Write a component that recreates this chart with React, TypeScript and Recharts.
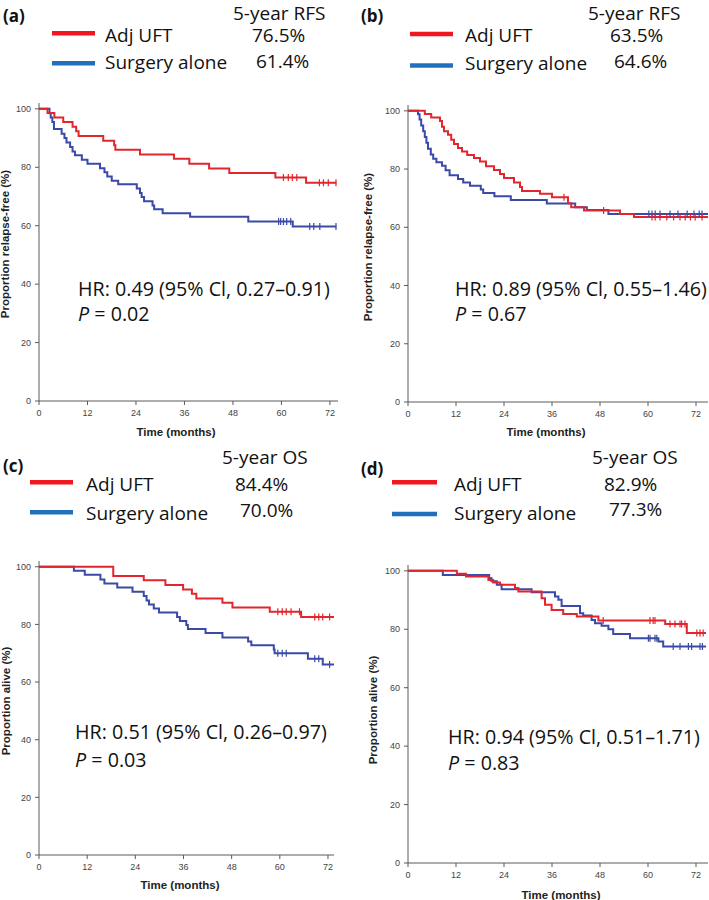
import React from 'react';
import { ComposedChart, Line, Scatter, XAxis, YAxis } from 'recharts';

type Pt = [number, number];

const X_TICKS = [0, 12, 24, 36, 48, 60, 72];
const Y_TICKS = [0, 20, 40, 60, 80, 100];

const SERIES_NAMES = ['Adj UFT', 'Surgery alone'];
const PANEL_TAGS = ['(a)', '(b)', '(c)', '(d)'];
const RATE_TITLES = ['5-year RFS', '5-year RFS', '5-year OS', '5-year OS'];
const RATE_UFT = ['76.5%', '63.5%', '84.4%', '82.9%'];
const RATE_SURG = ['61.4%', '64.6%', '70.0%', '77.3%'];
const HR_TEXT = [
  'HR: 0.49 (95% Cl, 0.27\u20130.91)',
  'HR: 0.89 (95% Cl, 0.55\u20131.46)',
  'HR: 0.51 (95% Cl, 0.26\u20130.97)',
  'HR: 0.94 (95% Cl, 0.51\u20131.71)',
];
const P_TEXT = ['0.02', '0.67', '0.03', '0.83'];
const Y_LABELS = ['Proportion relapse-free (%)', 'Proportion relapse-free (%)', 'Proportion alive (%)', 'Proportion alive (%)'];
const X_LABEL = 'Time (months)';

// Panel (a) RFS
const A_UFT: Pt[] = [[0, 100], [2.1, 98.6], [3.8, 97.0], [6.0, 95.5], [8.3, 93.9], [9.2, 92.3], [9.8, 90.7], [15.9, 89.1], [18.6, 87.5], [18.9, 86.0], [25.0, 84.4], [33.4, 82.9], [37.2, 81.2], [42.1, 79.6], [47.1, 78.0], [58.5, 76.5], [66.1, 74.7], [73.6, 74.7]];
const A_UFT_CENSOR = [60.5, 61.7, 62.7, 63.8, 69.4, 70.4, 71.6, 73.5];
const A_SURG: Pt[] = [[0, 100], [2.6, 98.5], [2.9, 97.0], [3.3, 95.5], [3.7, 93.1], [5.6, 91.5], [6.3, 90.0], [6.8, 88.5], [7.7, 86.9], [8.3, 85.4], [8.9, 84.1], [10.6, 82.6], [12.0, 81.2], [15.1, 79.7], [16.2, 78.3], [16.9, 76.8], [18.0, 75.4], [19.6, 74.2], [24.2, 72.7], [25.0, 71.2], [25.4, 69.8], [26.0, 68.4], [28.1, 66.9], [28.5, 65.6], [30.6, 64.3], [37.4, 63.1], [51.8, 61.4], [62.8, 59.7], [73.6, 59.7]];
const A_SURG_CENSOR = [59.3, 59.8, 60.5, 61.3, 62.3, 67.0, 68.0, 69.5, 73.5];

// Panel (b) RFS
const B_UFT: Pt[] = [[0, 100], [4.2, 98.9], [5.8, 97.7], [8.0, 96.5], [8.5, 94.5], [9.0, 93.0], [10.0, 91.8], [10.8, 90.1], [11.5, 88.6], [12.5, 87.2], [13.5, 86.0], [14.8, 84.8], [16.5, 83.8], [18.0, 82.6], [19.5, 81.0], [21.5, 79.7], [23.0, 78.3], [24.0, 76.9], [26.5, 75.4], [28.0, 73.8], [28.5, 72.5], [33.0, 71.5], [36.0, 70.3], [40.0, 68.3], [40.8, 66.9], [44.0, 65.8], [53.0, 64.6], [56.5, 63.5], [75, 63.5]];
const B_UFT_CENSOR = [39.0, 48.9, 61.0, 61.8, 63.0, 64.7, 66.4, 68.0, 69.3, 70.6, 71.8, 73.5];
const B_SURG: Pt[] = [[0, 100], [2.5, 98.8], [2.9, 97.0], [3.3, 95.0], [3.8, 93.0], [4.2, 91.0], [4.6, 89.0], [5.0, 87.0], [5.7, 85.0], [6.3, 83.5], [7.1, 82.3], [8.5, 81.1], [9.4, 79.6], [10.4, 77.9], [12.5, 76.6], [13.8, 75.4], [15.5, 74.3], [18.2, 73.0], [18.8, 71.8], [21.6, 70.7], [25.7, 69.4], [34.7, 68.2], [41.8, 66.9], [44.7, 65.9], [50.1, 64.6], [75, 64.6]];
const B_SURG_CENSOR = [60.2, 61.0, 61.8, 63.0, 65.5, 67.5, 69.8, 71.5, 72.8, 73.5];

// Panel (c) OS
const C_UFT: Pt[] = [[0, 100], [18.5, 96.8], [26.1, 95.3], [31.5, 93.7], [35.9, 92.1], [38.1, 90.6], [39.2, 89.0], [45.7, 87.5], [48.2, 85.9], [57.5, 84.4], [65.3, 82.6], [73.5, 82.6]];
const C_UFT_CENSOR = [59.5, 60.6, 61.6, 62.8, 64.9, 68.7, 69.7, 70.7, 72.4];
const C_SURG: Pt[] = [[0, 100], [8.7, 98.6], [11.4, 97.2], [15.3, 95.6], [16.3, 94.2], [19.5, 92.8], [23.3, 91.3], [26.1, 89.9], [26.8, 88.3], [27.4, 86.9], [28.6, 85.5], [29.9, 84.1], [34.4, 82.6], [35.1, 81.2], [36.7, 79.8], [37.1, 78.4], [41.5, 77.0], [45.7, 75.5], [52.1, 74.1], [52.9, 72.8], [58.5, 71.3], [58.7, 70.0], [67.0, 68.1], [70.7, 66.1], [73.5, 66.1]];
const C_SURG_CENSOR = [59.5, 60.6, 61.6, 68.7, 69.7, 72.4];

// Panel (d) OS
const D_UFT: Pt[] = [[0, 100], [12.2, 99.0], [14.5, 98.1], [20.1, 96.9], [21.3, 96.0], [23.0, 95.2], [26.75, 94.1], [27.6, 92.9], [33.4, 90.6], [34.25, 88.4], [35.9, 86.6], [38.8, 85.2], [42.2, 84.4], [47.6, 83.0], [64.3, 81.8], [69.7, 78.7], [74.5, 78.7]];
const D_UFT_CENSOR = [48.8, 60.5, 61.3, 61.75, 65.5, 66.75, 68.0, 68.4, 69.25, 72.2, 73.0, 73.8];
const D_SURG: Pt[] = [[0, 100], [8.7, 98.6], [20.3, 97.5], [20.9, 96.4], [22.2, 95.2], [23.4, 93.7], [30.9, 92.7], [36.75, 91.2], [37.6, 90.1], [38.4, 88.0], [43.0, 85.5], [43.8, 84.7], [45.9, 83.2], [46.75, 82.1], [48.4, 81.2], [50.1, 80.0], [51.3, 78.4], [55.5, 76.9], [62.6, 75.8], [63.8, 74.1], [74.5, 74.1]];
const D_SURG_CENSOR = [60.1, 60.5, 61.75, 62.2, 66.3, 68.0, 70.1, 70.9, 73.0, 73.6];

const RED = '#e2262e';
const BLUE = '#3a4aa6';
const LEG_RED = '#f2161e';
const LEG_BLUE = '#2070bd';
const AXIS = '#5a5a5a';

const stepValue = (pts: Pt[], t: number) => {
  let v = pts[0][1];
  for (const [tt, s] of pts) if (tt <= t) v = s;
  return v;
};

const censorShape = (color: string) => (props: any) => {
  const { cx, cy } = props;
  if (cx == null || cy == null) return <g />;
  return <line x1={cx} x2={cx} y1={cy - 3.5} y2={cy + 3.5} stroke={color} strokeWidth={1.2} />;
};

type Box = { x: number; y: number; w: number; h: number; yw: number; xh: number; xMax: number };

function KM({ box, uft, uftC, surg, surgC }: { box: Box; uft: Pt[]; uftC: number[]; surg: Pt[]; surgC: number[] }) {
  const rowsU = uft.map(([t, s]) => ({ t, s }));
  const rowsS = surg.map(([t, s]) => ({ t, s }));
  const cU = uftC.map((t) => ({ t, s: stepValue(uft, t) }));
  const cS = surgC.map((t) => ({ t, s: stepValue(surg, t) }));
  const tickStyle = { fontSize: 9, fill: '#444', fontFamily: 'Liberation Sans, Arial, sans-serif' };
  return (
    <div style={{ position: 'absolute', left: box.x, top: box.y, width: box.w, height: box.h }}>
      <ComposedChart width={box.w} height={box.h} margin={{ top: 0, right: 0, bottom: 0, left: 0 }}>
        <XAxis type="number" dataKey="t" domain={[0, box.xMax]} ticks={X_TICKS} interval={0} height={box.xh}
          tickSize={4} tickMargin={5} stroke={AXIS} tick={tickStyle} allowDataOverflow />
        <YAxis type="number" dataKey="s" domain={[0, 102]} ticks={Y_TICKS} interval={0} width={box.yw}
          tickSize={4} tickMargin={4} stroke={AXIS} tick={tickStyle} allowDataOverflow />
        <Line data={rowsS} dataKey="s" type="stepAfter" stroke={BLUE} strokeWidth={2} dot={false} isAnimationActive={false} />
        <Line data={rowsU} dataKey="s" type="stepAfter" stroke={RED} strokeWidth={2} dot={false} isAnimationActive={false} />
        <Scatter data={cS} dataKey="s" shape={censorShape(BLUE)} isAnimationActive={false} />
        <Scatter data={cU} dataKey="s" shape={censorShape(RED)} isAnimationActive={false} />
      </ComposedChart>
    </div>
  );
}

const BOXES: Box[] = [
  { x: 0, y: 103, w: 338, h: 328, yw: 39, xh: 30, xMax: 74 },
  { x: 355, y: 105, w: 353, h: 327, yw: 53, xh: 30, xMax: 75 },
  { x: 0, y: 561, w: 334, h: 324, yw: 39, xh: 30, xMax: 73.5 },
  { x: 355, y: 565, w: 353, h: 328, yw: 53, xh: 30, xMax: 75 },
];

// Annotation layout (positions only)
const LAYOUT = [
  { tag: [3, 22], sw: [52, 95], swY: [33.3, 63.3], name: [105, 42, 69], title: [233, 19.5], r1: [252, 42], r2: [256, 68], hr: [78, 295.7, 320.7], xl: [176, 436], yl: [9, 244] },
  { tag: [361, 22], sw: [410, 453], swY: [34, 65.5], name: [465, 42, 70], title: [588, 19.5], r1: [610, 42], r2: [614, 68], hr: [455, 295.7, 320.7], xl: [546, 436], yl: [372, 247] },
  { tag: [3, 472], sw: [30, 73], swY: [482.3, 512.3], name: [86, 490.7, 520], title: [222, 464], r1: [235, 490.7], r2: [240, 516.7], hr: [75, 739, 767], xl: [180, 889], yl: [10, 701] },
  { tag: [361, 475], sw: [392, 437], swY: [482.3, 514], name: [454, 490.7, 520], title: [592, 464], r1: [604, 490.7], r2: [609, 516], hr: [448, 744, 770], xl: [561, 899], yl: [377, 710] },
];

const SANS = 'Open Sans, sans-serif';
const ARIAL = 'Liberation Sans, Arial, sans-serif';

export default function App() {
  const data = [
    [A_UFT, A_UFT_CENSOR, A_SURG, A_SURG_CENSOR],
    [B_UFT, B_UFT_CENSOR, B_SURG, B_SURG_CENSOR],
    [C_UFT, C_UFT_CENSOR, C_SURG, C_SURG_CENSOR],
    [D_UFT, D_UFT_CENSOR, D_SURG, D_SURG_CENSOR],
  ] as any[];
  return (
    <div style={{ position: 'fixed', left: 0, top: 0, width: 709, height: 900, background: '#fff', overflow: 'hidden' }}>
      {BOXES.map((b, i) => (
        <KM key={i} box={b} uft={data[i][0]} uftC={data[i][1]} surg={data[i][2]} surgC={data[i][3]} />
      ))}
      <svg width={709} height={900} style={{ position: 'absolute', left: 0, top: 0, pointerEvents: 'none' }}>
        {LAYOUT.map((L, i) => (
          <g key={i}>
            <text x={L.tag[0]} y={L.tag[1]} fontFamily={SANS} fontWeight="bold" fontSize={17} fill="#111">{PANEL_TAGS[i]}</text>
            <line x1={L.sw[0]} x2={L.sw[1]} y1={L.swY[0]} y2={L.swY[0]} stroke={LEG_RED} strokeWidth={4.5} />
            <line x1={L.sw[0]} x2={L.sw[1]} y1={L.swY[1]} y2={L.swY[1]} stroke={LEG_BLUE} strokeWidth={4.5} />
            <text x={L.name[0]} y={L.name[1]} fontFamily={SANS} fontSize={19} fill="#111">{SERIES_NAMES[0]}</text>
            <text x={L.name[0]} y={L.name[2]} fontFamily={SANS} fontSize={19} fill="#111">{SERIES_NAMES[1]}</text>
            <text x={L.title[0]} y={L.title[1]} fontFamily={SANS} fontSize={19} fill="#111">{RATE_TITLES[i]}</text>
            <text x={L.r1[0]} y={L.r1[1]} fontFamily={SANS} fontSize={19} fill="#111">{RATE_UFT[i]}</text>
            <text x={L.r2[0]} y={L.r2[1]} fontFamily={SANS} fontSize={19} fill="#111">{RATE_SURG[i]}</text>
            <text x={L.hr[0]} y={L.hr[1]} fontFamily={SANS} fontSize={19.7} fill="#111">{HR_TEXT[i]}</text>
            <text x={L.hr[0]} y={L.hr[2]} fontFamily={SANS} fontSize={19.7} fill="#111">
              <tspan fontStyle="italic">P</tspan> = {P_TEXT[i]}
            </text>
            <text x={L.xl[0]} y={L.xl[1]} textAnchor="middle" fontFamily={ARIAL} fontWeight="bold" fontSize={11.5} fill="#222">{X_LABEL}</text>
            <text x={L.yl[0]} y={L.yl[1]} textAnchor="middle" transform={`rotate(-90 ${L.yl[0]} ${L.yl[1]})`} fontFamily={ARIAL} fontWeight="bold" fontSize={11.5} fill="#222">{Y_LABELS[i]}</text>
          </g>
        ))}
      </svg>
    </div>
  );
}
